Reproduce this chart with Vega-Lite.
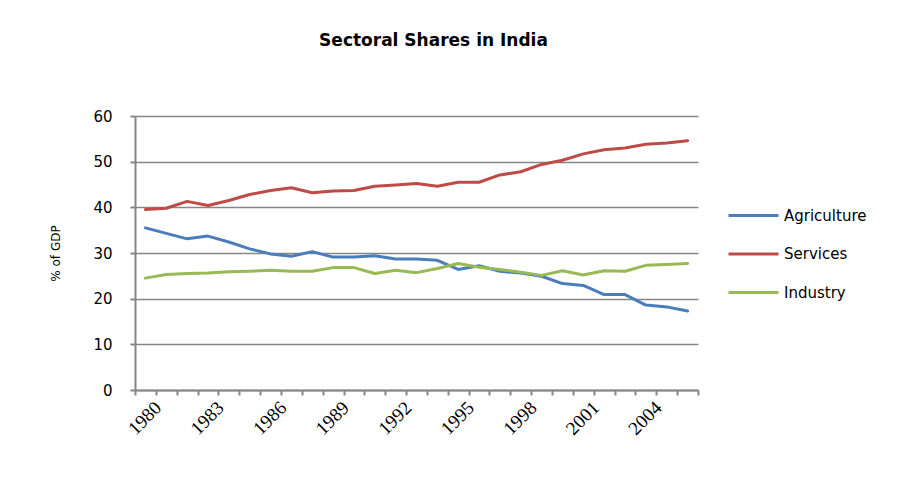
{
  "$schema": "https://vega.github.io/schema/vega-lite/v6.json",
  "width": 563,
  "height": 274,
  "autosize": {"type": "none"},
  "padding": {"left": 135, "top": 116, "right": 205, "bottom": 100},
  "background": "white",
  "view": {"stroke": null},
  "title": {"text": "Sectoral Shares in India", "font": "DejaVu Sans", "fontSize": 17, "fontWeight": "bold", "color": "#000000", "anchor": "middle", "offset": 59, "dx": 17},
  "data": {"values": [
    {"year": 1980, "sector": "Agriculture", "share": 35.5}, {"year": 1980, "sector": "Services", "share": 39.5}, {"year": 1980, "sector": "Industry", "share": 24.5},
    {"year": 1981, "sector": "Agriculture", "share": 34.3}, {"year": 1981, "sector": "Services", "share": 39.8}, {"year": 1981, "sector": "Industry", "share": 25.3},
    {"year": 1982, "sector": "Agriculture", "share": 33.1}, {"year": 1982, "sector": "Services", "share": 41.3}, {"year": 1982, "sector": "Industry", "share": 25.5},
    {"year": 1983, "sector": "Agriculture", "share": 33.7}, {"year": 1983, "sector": "Services", "share": 40.4}, {"year": 1983, "sector": "Industry", "share": 25.6},
    {"year": 1984, "sector": "Agriculture", "share": 32.4}, {"year": 1984, "sector": "Services", "share": 41.5}, {"year": 1984, "sector": "Industry", "share": 25.9},
    {"year": 1985, "sector": "Agriculture", "share": 30.9}, {"year": 1985, "sector": "Services", "share": 42.8}, {"year": 1985, "sector": "Industry", "share": 26.0},
    {"year": 1986, "sector": "Agriculture", "share": 29.8}, {"year": 1986, "sector": "Services", "share": 43.7}, {"year": 1986, "sector": "Industry", "share": 26.2},
    {"year": 1987, "sector": "Agriculture", "share": 29.3}, {"year": 1987, "sector": "Services", "share": 44.3}, {"year": 1987, "sector": "Industry", "share": 26.0},
    {"year": 1988, "sector": "Agriculture", "share": 30.3}, {"year": 1988, "sector": "Services", "share": 43.2}, {"year": 1988, "sector": "Industry", "share": 26.0},
    {"year": 1989, "sector": "Agriculture", "share": 29.1}, {"year": 1989, "sector": "Services", "share": 43.6}, {"year": 1989, "sector": "Industry", "share": 26.8},
    {"year": 1990, "sector": "Agriculture", "share": 29.1}, {"year": 1990, "sector": "Services", "share": 43.7}, {"year": 1990, "sector": "Industry", "share": 26.8},
    {"year": 1991, "sector": "Agriculture", "share": 29.4}, {"year": 1991, "sector": "Services", "share": 44.6}, {"year": 1991, "sector": "Industry", "share": 25.5},
    {"year": 1992, "sector": "Agriculture", "share": 28.7}, {"year": 1992, "sector": "Services", "share": 44.9}, {"year": 1992, "sector": "Industry", "share": 26.2},
    {"year": 1993, "sector": "Agriculture", "share": 28.7}, {"year": 1993, "sector": "Services", "share": 45.2}, {"year": 1993, "sector": "Industry", "share": 25.7},
    {"year": 1994, "sector": "Agriculture", "share": 28.4}, {"year": 1994, "sector": "Services", "share": 44.6}, {"year": 1994, "sector": "Industry", "share": 26.6},
    {"year": 1995, "sector": "Agriculture", "share": 26.4}, {"year": 1995, "sector": "Services", "share": 45.5}, {"year": 1995, "sector": "Industry", "share": 27.7},
    {"year": 1996, "sector": "Agriculture", "share": 27.2}, {"year": 1996, "sector": "Services", "share": 45.5}, {"year": 1996, "sector": "Industry", "share": 26.9},
    {"year": 1997, "sector": "Agriculture", "share": 26.0}, {"year": 1997, "sector": "Services", "share": 47.1}, {"year": 1997, "sector": "Industry", "share": 26.4},
    {"year": 1998, "sector": "Agriculture", "share": 25.6}, {"year": 1998, "sector": "Services", "share": 47.8}, {"year": 1998, "sector": "Industry", "share": 25.8},
    {"year": 1999, "sector": "Agriculture", "share": 24.9}, {"year": 1999, "sector": "Services", "share": 49.4}, {"year": 1999, "sector": "Industry", "share": 25.1},
    {"year": 2000, "sector": "Agriculture", "share": 23.3}, {"year": 2000, "sector": "Services", "share": 50.3}, {"year": 2000, "sector": "Industry", "share": 26.1},
    {"year": 2001, "sector": "Agriculture", "share": 22.9}, {"year": 2001, "sector": "Services", "share": 51.7}, {"year": 2001, "sector": "Industry", "share": 25.2},
    {"year": 2002, "sector": "Agriculture", "share": 20.9}, {"year": 2002, "sector": "Services", "share": 52.6}, {"year": 2002, "sector": "Industry", "share": 26.1},
    {"year": 2003, "sector": "Agriculture", "share": 20.9}, {"year": 2003, "sector": "Services", "share": 53.0}, {"year": 2003, "sector": "Industry", "share": 26.0},
    {"year": 2004, "sector": "Agriculture", "share": 18.6}, {"year": 2004, "sector": "Services", "share": 53.8}, {"year": 2004, "sector": "Industry", "share": 27.3},
    {"year": 2005, "sector": "Agriculture", "share": 18.2}, {"year": 2005, "sector": "Services", "share": 54.1}, {"year": 2005, "sector": "Industry", "share": 27.5},
    {"year": 2006, "sector": "Agriculture", "share": 17.3}, {"year": 2006, "sector": "Services", "share": 54.6}, {"year": 2006, "sector": "Industry", "share": 27.7}
  ]},
  "mark": {"type": "line", "strokeWidth": 3, "strokeJoin": "round", "strokeCap": "round"},
  "encoding": {
    "x": {
      "field": "year", "type": "ordinal",
      "scale": {"type": "band", "paddingInner": 0, "paddingOuter": 0},
      "axis": {
        "title": null,
        "labelExpr": "(datum.value - 1980) % 3 == 0 ? datum.label : ''",
        "labelAngle": -45,
        "labelFont": "Liberation Serif",
        "labelFontSize": 19,
        "labelColor": "#000000",
        "labelPadding": 3,
        "labelOffset": 6,
        "domainColor": "#868686",
        "domainWidth": 2,
        "tickColor": "#868686",
        "tickWidth": 2,
        "tickSize": 5,
        "tickBand": "extent",
        "grid": false
      }
    },
    "y": {
      "field": "share", "type": "quantitative",
      "scale": {"domain": [0, 60]},
      "axis": {
        "title": "% of GDP",
        "titleFont": "DejaVu Sans",
        "titleFontSize": 12,
        "titleFontWeight": "normal",
        "titleColor": "#000000",
        "titleX": -80,
        "titleY": 137,
        "titleAngle": -90,
        "titleAlign": "center",
        "titleBaseline": "middle",
        "values": [0, 10, 20, 30, 40, 50, 60],
        "labelFont": "DejaVu Sans",
        "labelFontSize": 15,
        "labelColor": "#000000",
        "labelPadding": 18,
        "domainColor": "#868686",
        "domainWidth": 2,
        "tickColor": "#868686",
        "tickWidth": 2,
        "tickSize": 5,
        "grid": true,
        "gridColor": "#868686",
        "gridWidth": 1.5
      }
    },
    "color": {
      "field": "sector", "type": "nominal",
      "scale": {"domain": ["Agriculture", "Services", "Industry"], "range": ["#4A7EBB", "#BE4B48", "#98B954"]},
      "legend": {
        "orient": "none",
        "legendX": 592,
        "legendY": 73,
        "title": null,
        "symbolType": "stroke",
        "symbolSize": 2500,
        "symbolStrokeWidth": 3,
        "labelFont": "DejaVu Sans",
        "labelFontSize": 15,
        "labelColor": "#000000",
        "labelOffset": 4,
        "rowPadding": 3.5
      }
    }
  }
}
